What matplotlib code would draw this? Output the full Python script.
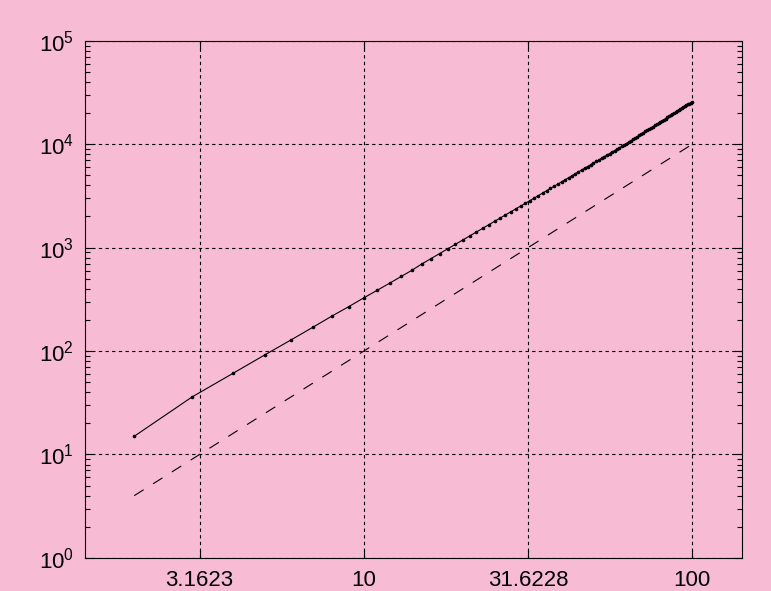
import matplotlib
matplotlib.use('Agg')
import matplotlib.pyplot as plt
from matplotlib.ticker import FixedLocator, FixedFormatter, LogLocator, NullLocator

plt.rcParams['font.family'] = ['Liberation Sans', 'DejaVu Sans']
plt.rcParams['mathtext.default'] = 'regular'

# measured values, one per integer n = 2..100
n_values = list(range(2, 101))
measured = [
    15, 36, 61, 92, 128, 170, 218, 269, 327,
    388, 454, 527, 603, 694, 782, 875, 973, 1076, 1184,
    1297, 1414, 1536, 1663, 1794, 1931, 2072, 2217, 2366, 2520,
    2680, 2842, 3011, 3185, 3363, 3545, 3733, 3925, 4122, 4322,
    4527, 4736, 4951, 5170, 5392, 5620, 5851, 6086, 6327, 6572,
    6821, 7072, 7331, 7592, 7861, 8130, 8406, 8683, 8969, 9257,
    9546, 9842, 10153, 10486, 10816, 11153, 11500, 11844, 12195, 12557,
    12924, 13289, 13665, 14045, 14435, 14822, 15220, 15618, 16022, 16437,
    16855, 17275, 17701, 18134, 18568, 19014, 19461, 19914, 20375, 20835,
    21300, 21781, 22263, 22745, 23232, 23735, 24237, 24734, 25246, 25760,
]

# reference n^2 line
ref_x = [2, 100]
ref_y = [4, 10000]

x_ticks = [3.1623, 10, 31.6228, 100]
x_tick_labels = ['3.1623', '10', '31.6228', '100']

pink = '#f7bbd3'

fig = plt.figure(figsize=(7.71, 5.91), dpi=100, facecolor=pink)
ax = fig.add_axes([0.110, 0.056, 0.852, 0.875], facecolor=pink)

ax.plot(n_values, measured, color='black', lw=0.8, marker='o', ms=1.6)
ref_line, = ax.plot(ref_x, ref_y, color='black', lw=0.8)
ref_line.set_dashes([10, 10])

ax.set_xscale('log')
ax.set_yscale('log')
ax.set_xlim(2 ** 0.5, 100 * 2 ** 0.5)
ax.set_ylim(1, 1e5)

ax.xaxis.set_major_locator(FixedLocator(x_ticks))
ax.xaxis.set_major_formatter(FixedFormatter(x_tick_labels))
ax.xaxis.set_minor_locator(NullLocator())
ax.yaxis.set_major_locator(LogLocator(base=10, numticks=10))
ax.yaxis.set_minor_locator(LogLocator(base=10, subs=range(2, 10), numticks=10))

ax.tick_params(which='both', direction='in', top=True, right=True,
               labelsize=16, colors='black', width=0.8)
ax.tick_params(which='major', length=6)
ax.tick_params(which='minor', length=3.5)
ax.tick_params(axis='x', pad=8.5)
ax.tick_params(axis='y', pad=8)

ax.grid(True, which='major', color='black', lw=0.8, linestyle=(0, (3, 3)))

for s in ax.spines.values():
    s.set_linewidth(0.8)

fig.savefig('out.png', dpi=100, facecolor=pink)
